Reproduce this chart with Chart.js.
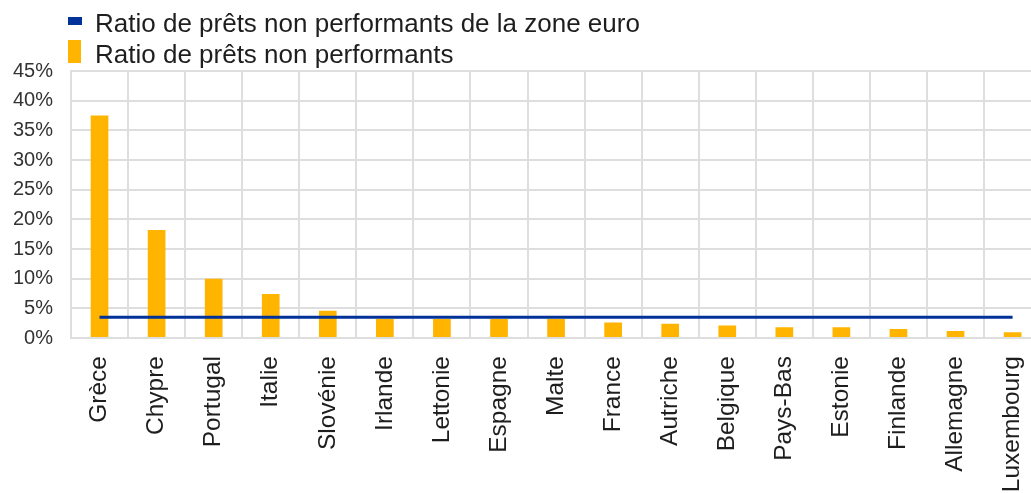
<!DOCTYPE html>
<html>
<head>
<meta charset="utf-8">
<script src="https://cdn.jsdelivr.net/npm/chart.js@4"></script>
<style>
  html, body { margin: 0; padding: 0; background: #fff; overflow: hidden; }
  #wrap { width: 1031px; height: 493px; overflow: hidden; position: relative; }
  canvas { display: block; }
</style>
</head>
<body>
<div id="wrap"><canvas id="c" width="1060" height="493"></canvas></div>
<script>
const categories = ['Grèce','Chypre','Portugal','Italie','Slovénie','Irlande','Lettonie','Espagne','Malte','France','Autriche','Belgique','Pays-Bas','Estonie','Finlande','Allemagne','Luxembourg'];
const nplRatio = [37.5, 18.2, 10.0, 7.4, 4.6, 3.2, 3.2, 3.2, 3.2, 2.6, 2.4, 2.1, 1.8, 1.8, 1.5, 1.2, 0.95];
const euroAreaRatio = [3.5, 3.5, 3.5, 3.5, 3.5, 3.5, 3.5, 3.5, 3.5, 3.5, 3.5, 3.5, 3.5, 3.5, 3.5, 3.5, 3.5];
const yTicks = [0, 5, 10, 15, 20, 25, 30, 35, 40, 45];
const seriesNames = ['Ratio de prêts non performants de la zone euro', 'Ratio de prêts non performants'];

const FONT = '"Liberation Sans", Arial, sans-serif';
const BLUE = '#003299';
const ORANGE = '#FFB400';

const legendPlugin = {
  id: 'stackedLegend',
  afterDraw(chart) {
    const ctx = chart.ctx;
    ctx.save();
    ctx.font = '26px ' + FONT;
    ctx.textBaseline = 'alphabetic';
    ctx.textAlign = 'left';
    const ds = chart.data.datasets;
    ctx.fillStyle = ds[0].borderColor;
    ctx.fillRect(68, 17, 14, 8);
    ctx.fillStyle = '#1e1e1e';
    ctx.fillText(ds[0].label, 95, 31.5);
    ctx.fillStyle = ds[1].backgroundColor;
    ctx.fillRect(68, 40, 13, 23);
    ctx.fillStyle = '#1e1e1e';
    ctx.fillText(ds[1].label, 95, 63);
    ctx.restore();
  }
};

new Chart(document.getElementById('c'), {
  data: {
    labels: categories,
    datasets: [
      {
        type: 'line',
        label: seriesNames[0],
        data: euroAreaRatio,
        borderColor: BLUE,
        backgroundColor: BLUE,
        borderWidth: 3,
        pointRadius: 0,
        tension: 0,
        order: 0
      },
      {
        type: 'bar',
        label: seriesNames[1],
        data: nplRatio,
        backgroundColor: ORANGE,
        borderWidth: 0,
        categoryPercentage: 1,
        barPercentage: 0.31,
        order: 1
      }
    ]
  },
  options: {
    responsive: false,
    animation: false,
    devicePixelRatio: 1,
    layout: { padding: { top: 71, right: 0, left: 0, bottom: 0 } },
    plugins: {
      legend: { display: false },
      tooltip: { enabled: false }
    },
    scales: {
      x: {
        grid: { color: '#dedede', lineWidth: 2, drawTicks: false, offset: true },
        border: { color: '#dedede', width: 2 },
        ticks: {
          autoSkip: false,
          minRotation: 90,
          maxRotation: 90,
          padding: 18,
          color: '#1e1e1e',
          font: { family: FONT, size: 24.5 }
        },
        afterFit(scale) { scale.height = 155; }
      },
      y: {
        min: 0,
        max: 45,
        grid: { color: '#dedede', lineWidth: 2, drawTicks: false },
        border: { color: '#dedede', width: 2 },
        afterBuildTicks(scale) { scale.ticks = yTicks.map(v => ({ value: v })); },
        ticks: {
          padding: 18,
          color: '#333',
          font: { family: FONT, size: 20 },
          callback: (v) => v + '%'
        },
        afterFit(scale) { scale.width = 71; }
      }
    }
  },
  plugins: [legendPlugin]
});
</script>
</body>
</html>
